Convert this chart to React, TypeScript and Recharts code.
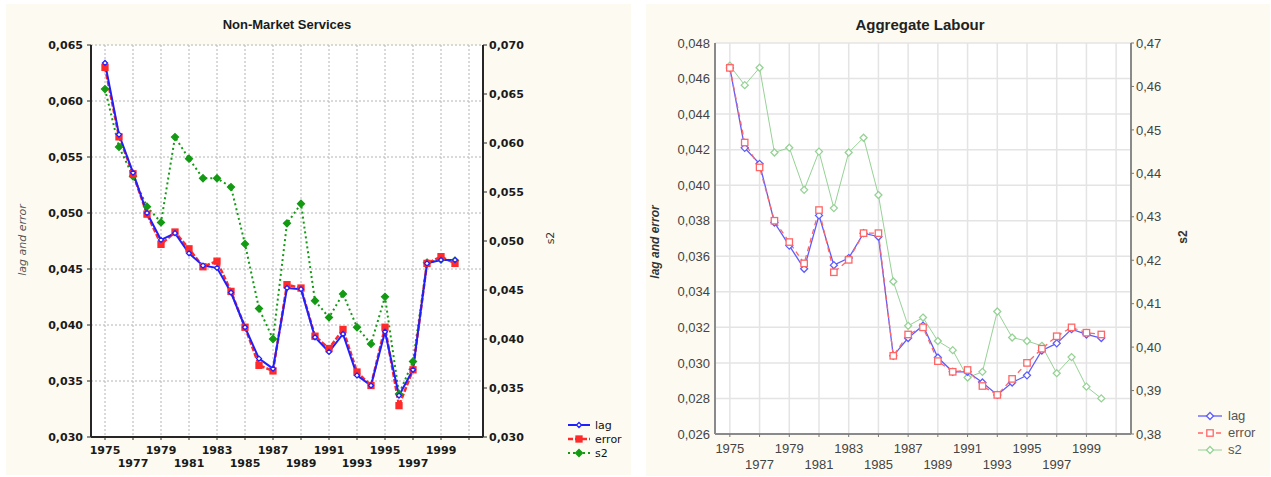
import React from "react";
import { LineChart, Line, XAxis, YAxis, CartesianGrid } from "recharts";

const years = [
  1975, 1976, 1977, 1978, 1979, 1980, 1981, 1982, 1983, 1984, 1985, 1986, 1987,
  1988, 1989, 1990, 1991, 1992, 1993, 1994, 1995, 1996, 1997, 1998, 1999, 2000,
];

// Non-Market Services
const nmsLag = [
  0.0634, 0.057, 0.0536, 0.05, 0.0476, 0.0482, 0.0464, 0.0453, 0.0451, 0.0429,
  0.0398, 0.037, 0.0361, 0.0433, 0.0432, 0.0389, 0.0376, 0.0392, 0.0355, 0.0346,
  0.0394, 0.0337, 0.036, 0.0455, 0.0458, 0.0458,
];
const nmsError = [
  0.063, 0.0568, 0.0535, 0.0499, 0.0472, 0.0483, 0.0468, 0.0452, 0.0457, 0.043,
  0.0398, 0.0364, 0.0359, 0.0436, 0.0433, 0.039, 0.0379, 0.0396, 0.0358, 0.0346,
  0.0398, 0.0328, 0.036, 0.0455, 0.0461, 0.0455,
];
const nmsS2 = [
  0.0655, 0.0596, 0.0566, 0.0535, 0.0519, 0.0606, 0.0584, 0.0564, 0.0564, 0.0555,
  0.0497, 0.0431, 0.04, 0.0518, 0.0538, 0.0439, 0.0422, 0.0446, 0.0412, 0.0395,
  0.0443, 0.0344, 0.0377, 0.0478, 0.0481, 0.048,
];

// Aggregate Labour
const alLag = [
  0.0466, 0.0421, 0.0412, 0.0379, 0.0366, 0.0353, 0.0383, 0.0355, 0.0359, 0.0373,
  0.0371, 0.0304, 0.0314, 0.0321, 0.0303, 0.0295, 0.0295, 0.0289, 0.0282, 0.0289,
  0.0293, 0.0307, 0.0311, 0.0319, 0.0316, 0.0314,
];
const alError = [
  0.0466, 0.0424, 0.041, 0.038, 0.0368, 0.0356, 0.0386, 0.0351, 0.0358, 0.0373,
  0.0373, 0.0304, 0.0316, 0.032, 0.0301, 0.0295, 0.0296, 0.0287, 0.0282, 0.0291,
  0.03, 0.0308, 0.0315, 0.032, 0.0317, 0.0316,
];
const alS2 = [
  0.4648, 0.4603, 0.4643, 0.4448, 0.4459, 0.4362, 0.445, 0.432, 0.4448, 0.4482,
  0.435, 0.4151, 0.4049, 0.4068, 0.4014, 0.3993, 0.393, 0.3943, 0.4082, 0.4022,
  0.4014, 0.4003, 0.394, 0.3977, 0.3909, 0.3882,
];

const xTicks = [1975, 1977, 1979, 1981, 1983, 1985, 1987, 1989, 1991, 1993, 1995, 1997, 1999, 2001];
const nmsLeftTicks = [0.03, 0.035, 0.04, 0.045, 0.05, 0.055, 0.06, 0.065];
const nmsRightTicks = [0.03, 0.035, 0.04, 0.045, 0.05, 0.055, 0.06, 0.065, 0.07];
const alLeftTicks = [0.026, 0.028, 0.03, 0.032, 0.034, 0.036, 0.038, 0.04, 0.042, 0.044, 0.046, 0.048];
const alRightTicks = [0.38, 0.39, 0.4, 0.41, 0.42, 0.43, 0.44, 0.45, 0.46, 0.47];

const nmsData = years.map((year, i) => ({ year, lag: nmsLag[i], error: nmsError[i], s2: nmsS2[i] }));
const alData = years.map((year, i) => ({ year, lag: alLag[i], error: alError[i], s2: alS2[i] }));

const CREAM = "#fdfbf1";

type Series = {
  key: string;
  axis: string;
  color: string;
  width: number;
  dash?: string;
  shape: "diamond" | "square";
  size: number;
  filled: boolean;
};

const nmsSeries: Series[] = [
  { key: "s2", axis: "right", color: "#139a13", width: 2, dash: "2 3", shape: "diamond", size: 3.5, filled: true },
  { key: "error", axis: "left", color: "#ff2a2a", width: 2.5, dash: "5 2", shape: "square", size: 3, filled: false },
  { key: "lag", axis: "left", color: "#2020ff", width: 2, shape: "diamond", size: 2.5, filled: false },
];
const alSeries: Series[] = [
  { key: "s2", axis: "right", color: "#96d296", width: 1, shape: "diamond", size: 3.5, filled: false },
  { key: "lag", axis: "left", color: "#5c5cff", width: 1.3, shape: "diamond", size: 3.5, filled: false },
  { key: "error", axis: "left", color: "#ff6666", width: 1.3, dash: "5 4", shape: "square", size: 3.2, filled: false },
];
const legendOrder = ["lag", "error", "s2"];

function Marker(props: any) {
  const { cx, cy, mShape, mSize, mColor, mFilled } = props;
  if (typeof cx !== "number" || typeof cy !== "number") return null;
  const fill = mFilled ? mColor : "#ffffff";
  if (mShape === "square") {
    return (
      <rect x={cx - mSize} y={cy - mSize} width={mSize * 2} height={mSize * 2} fill={fill} stroke={mColor} strokeWidth={1.3} />
    );
  }
  return (
    <polygon
      points={`${cx},${cy - mSize} ${cx + mSize},${cy} ${cx},${cy + mSize} ${cx - mSize},${cy}`}
      fill={fill}
      stroke={mColor}
      strokeWidth={1.3}
    />
  );
}

function XTick(props: any) {
  const { x, y, payload, upDy, downDy, txt } = props;
  const yr = payload.value;
  if (yr > 2000) return <g />;
  const lower = ((yr - 1975) / 2) % 2 === 1;
  return (
    <text x={x} y={y + (lower ? downDy : upDy)} textAnchor="middle" {...txt}>
      {yr}
    </text>
  );
}

function LegendBox({ series, left, top, rowH, sampleW, gap, txt }: any) {
  return (
    <div style={{ position: "absolute", left, top }}>
      {legendOrder.map((k) => {
        const s: Series = series.find((d: Series) => d.key === k);
        return (
          <div key={k} style={{ display: "flex", alignItems: "center", height: rowH }}>
            <svg width={sampleW} height={10} style={{ display: "block" }}>
              <line x1={0} y1={5} x2={sampleW} y2={5} stroke={s.color} strokeWidth={s.width} strokeDasharray={s.dash} />
              <Marker cx={sampleW / 2} cy={5} mShape={s.shape} mSize={s.size} mColor={s.color} mFilled={s.filled} />
            </svg>
            <span style={{ marginLeft: gap, lineHeight: "1", ...txt }}>{k}</span>
          </div>
        );
      })}
    </div>
  );
}

function Rotated({ x, y, children, style }: any) {
  return (
    <div
      style={{
        position: "absolute",
        left: x,
        top: y,
        transform: "translate(-50%, -50%) rotate(-90deg)",
        whiteSpace: "nowrap",
        lineHeight: "1",
        ...style,
      }}
    >
      {children}
    </div>
  );
}

const fmt3 = (v: number) => v.toFixed(3).replace(".", ",");
const fmt2 = (v: number) => v.toFixed(2).replace(".", ",");

function NonMarketPanel() {
  const border = { stroke: "#262626", strokeWidth: 2 };
  const tickTxt = { fill: "#1a1a1a", fontSize: 11, fontFamily: "DejaVu Sans", fontWeight: "bold" };
  return (
    <div style={{ position: "absolute", left: 6, top: 4, width: 625, height: 471, background: CREAM }}>
      <div
        style={{
          position: "absolute",
          left: 281,
          top: 20,
          transform: "translate(-50%, -50%)",
          fontFamily: "Liberation Sans",
          fontWeight: "bold",
          fontSize: 13,
          color: "#1a1a1a",
          whiteSpace: "nowrap",
        }}
      >
        Non-Market Services
      </div>
      <LineChart width={625} height={471} data={nmsData} margin={{ top: 41, right: 0, bottom: 0, left: 0 }} style={{ position: "absolute", left: 0, top: 0 }}>
        <CartesianGrid yAxisId="left" fill="#ffffff" stroke="#b4b4b4" strokeDasharray="2 2" verticalPoints={undefined} />
        <XAxis
          dataKey="year"
          type="number"
          domain={[1974, 2002]}
          ticks={xTicks}
          interval={0}
          height={38}
          axisLine={border}
          tickLine={{ stroke: "#262626" }}
          tickSize={3}
          tick={<XTick upDy={12} downDy={25} txt={tickTxt} />}
        />
        <XAxis xAxisId="top" orientation="top" type="number" domain={[1974, 2002]} ticks={xTicks} height={0} axisLine={border} tick={false} tickLine={false} />
        <YAxis
          yAxisId="left"
          domain={[0.03, 0.065]}
          ticks={nmsLeftTicks}
          interval={0}
          width={85}
          axisLine={border}
          tickLine={{ stroke: "#262626" }}
          tickSize={4}
          tickMargin={4}
          tickFormatter={fmt3}
          tick={tickTxt}
        />
        <YAxis
          yAxisId="right"
          orientation="right"
          domain={[0.03, 0.07]}
          ticks={nmsRightTicks}
          interval={0}
          width={148}
          axisLine={border}
          tickLine={{ stroke: "#262626" }}
          tickSize={4}
          tickMargin={2}
          tickFormatter={fmt3}
          tick={{ ...tickTxt, textAnchor: "start" }}
        />
        {nmsSeries.map((s) => (
          <Line
            key={s.key}
            yAxisId={s.axis}
            dataKey={s.key}
            type="linear"
            stroke={s.color}
            strokeWidth={s.width}
            strokeDasharray={s.dash}
            dot={<Marker mShape={s.shape} mSize={s.size} mColor={s.color} mFilled={s.key !== "lag"} />}
            activeDot={false}
            isAnimationActive={false}
          />
        ))}
      </LineChart>
      <Rotated x={16} y={236} style={{ fontFamily: "DejaVu Sans", fontStyle: "italic", fontSize: 11, color: "#555" }}>
        lag and error
      </Rotated>
      <Rotated x={544} y={234} style={{ fontFamily: "DejaVu Sans", fontSize: 11, color: "#333" }}>
        s2
      </Rotated>
      <LegendBox
        series={nmsSeries.map((s) => ({ ...s, filled: s.key !== "lag" }))}
        left={562}
        top={414}
        rowH={14}
        sampleW={22}
        gap={5}
        txt={{ fontFamily: "DejaVu Sans", fontSize: 11, color: "#111" }}
      />
    </div>
  );
}

function AggregatePanel() {
  const border = { stroke: "#8a8a8a", strokeWidth: 2 };
  const tickTxt = { fill: "#444", fontSize: 13, fontFamily: "Liberation Sans" };
  return (
    <div style={{ position: "absolute", left: 646, top: 4, width: 624, height: 472, background: CREAM }}>
      <div
        style={{
          position: "absolute",
          left: 274,
          top: 20,
          transform: "translate(-50%, -50%)",
          fontFamily: "Liberation Sans",
          fontWeight: "bold",
          fontSize: 15,
          color: "#222",
          whiteSpace: "nowrap",
        }}
      >
        Aggregate Labour
      </div>
      <LineChart width={624} height={472} data={alData} margin={{ top: 39, right: 0, bottom: 0, left: 0 }} style={{ position: "absolute", left: 0, top: 0 }}>
        <CartesianGrid yAxisId="left" fill="#ffffff" stroke="#e4e4e4" strokeWidth={1.5} />
        <XAxis
          dataKey="year"
          type="number"
          domain={[1974, 2002]}
          ticks={xTicks}
          interval={0}
          height={42}
          axisLine={border}
          tickLine={{ stroke: "#777" }}
          tickSize={3}
          tick={<XTick upDy={14} downDy={30} txt={tickTxt} />}
        />
        <XAxis xAxisId="top" orientation="top" type="number" domain={[1974, 2002]} ticks={xTicks} height={0} axisLine={border} tick={false} tickLine={false} />
        <YAxis
          yAxisId="left"
          domain={[0.026, 0.048]}
          ticks={alLeftTicks}
          interval={0}
          width={69}
          axisLine={border}
          tickLine={false}
          tickSize={2}
          tickMargin={3}
          tickFormatter={fmt3}
          tick={tickTxt}
        />
        <YAxis
          yAxisId="right"
          orientation="right"
          domain={[0.38, 0.47]}
          ticks={alRightTicks}
          interval={0}
          width={139}
          axisLine={border}
          tickLine={{ stroke: "#777" }}
          tickSize={3}
          tickMargin={2}
          tickFormatter={fmt2}
          tick={{ ...tickTxt, textAnchor: "start" }}
        />
        {alSeries.map((s) => (
          <Line
            key={s.key}
            yAxisId={s.axis}
            dataKey={s.key}
            type="linear"
            stroke={s.color}
            strokeWidth={s.width}
            strokeDasharray={s.dash}
            dot={<Marker mShape={s.shape} mSize={s.size} mColor={s.color} mFilled={s.filled} />}
            activeDot={false}
            isAnimationActive={false}
          />
        ))}
      </LineChart>
      <Rotated x={9} y={238} style={{ fontFamily: "Liberation Sans", fontStyle: "italic", fontWeight: "bold", fontSize: 12, color: "#333" }}>
        lag and error
      </Rotated>
      <Rotated x={537} y={233} style={{ fontFamily: "Liberation Sans", fontWeight: "bold", fontSize: 12, color: "#333" }}>
        s2
      </Rotated>
      <LegendBox
        series={alSeries}
        left={552}
        top={403}
        rowH={17}
        sampleW={24}
        gap={6}
        txt={{ fontFamily: "Liberation Sans", fontSize: 13, color: "#555" }}
      />
    </div>
  );
}

export default function App() {
  return (
    <div style={{ position: "absolute", left: 0, top: 0, width: 1271, height: 477, background: "#ffffff", overflow: "hidden" }}>
      <NonMarketPanel />
      <AggregatePanel />
    </div>
  );
}
